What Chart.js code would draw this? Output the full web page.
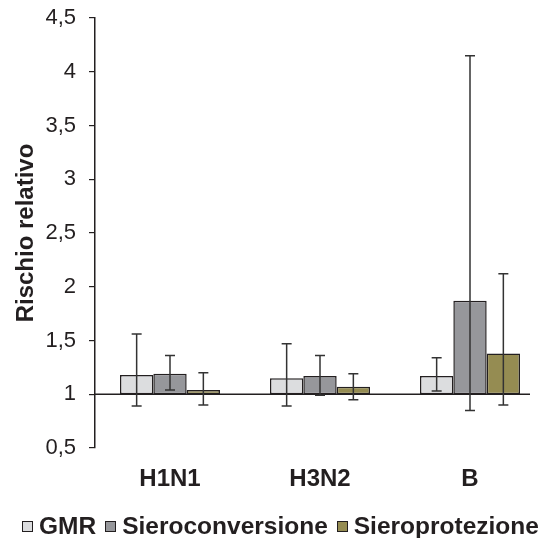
<!DOCTYPE html>
<html>
<head>
<meta charset="utf-8">
<script src="https://cdn.jsdelivr.net/npm/chart.js@4/dist/chart.umd.min.js"></script>
<style>
  html, body { margin: 0; padding: 0; background: #fff; overflow: hidden; }
  #wrap { position: relative; width: 541px; height: 538px; }
  #legend {
    position: absolute; left: 22px; top: 511px; height: 30px;
    display: flex; align-items: center; white-space: nowrap;
    font: bold 24.5px 'Liberation Sans', Arial, sans-serif; color: #231f20;
  }
  #legend .item { display: flex; align-items: center; margin-right: 9px; }
  #legend .box {
    width: 9px; height: 9px; border: 1.5px solid #231f20; margin-right: 6px;
  }
</style>
</head>
<body>
<div id="wrap">
  <canvas id="rr-chart" width="541" height="538"></canvas>
  <div id="legend"></div>
</div>
<script>
// 
// Chart data:
// 
var categories = ['H1N1', 'H3N2', 'B'];
var seriesNames = ['GMR', 'Sieroconversione', 'Sieroprotezione'];
var seriesColors = ['#dcdddf', '#96979b', '#958c52'];

var gmrValues = [1.18, 1.15, 1.17];
var gmrLow = [0.89, 0.89, 1.03];
var gmrHigh = [1.56, 1.47, 1.34];

var sieroconvValues = [1.19, 1.17, 1.87];
var sieroconvLow = [1.04, 0.99, 0.85];
var sieroconvHigh = [1.36, 1.36, 4.15];

var sieroprotValues = [1.04, 1.07, 1.38];
var sieroprotLow = [0.90, 0.95, 0.90];
var sieroprotHigh = [1.20, 1.19, 2.12];

var yTicks = [0.5, 1, 1.5, 2, 2.5, 3, 3.5, 4, 4.5];
var baseValue = 1;

var ink = '#231f20';
var family = "'Liberation Sans', Arial, sans-serif";

// 
// Build a floating bar dataset starting at the base value.
// 
function makeDataset(label, values, low, high, color) {
    return {
        label: label,
        data: values.map(function (v, i) {
            return {x: i, y: [baseValue, v]};
        }),
        errLow: low,
        errHigh: high,
        backgroundColor: color,
        borderColor: ink,
        borderWidth: 1.5,
        borderSkipped: false,
        categoryPercentage: 0.667,
        barPercentage: 1.0
    };
}

// 
// Horizontal axis line at the base value (1).
// 
var baseLine = {
    id: 'baseLine',
    beforeDatasetsDraw: function (chart) {
        var ctx = chart.ctx, area = chart.chartArea;
        var y = chart.scales.y.getPixelForValue(baseValue);
        ctx.save();
        ctx.strokeStyle = ink;
        ctx.lineWidth = 1.5;
        ctx.beginPath();
        ctx.moveTo(area.left, y);
        ctx.lineTo(area.right, y);
        ctx.stroke();
        ctx.restore();
    }
};

// 
// Error bars drawn on top of the bars.
// 
var errorBars = {
    id: 'errorBars',
    afterDatasetsDraw: function (chart) {
        var ctx = chart.ctx, yScale = chart.scales.y;
        ctx.save();
        ctx.strokeStyle = '#333333';
        ctx.lineWidth = 1.5;
        chart.data.datasets.forEach(function (ds, d) {
            var meta = chart.getDatasetMeta(d);
            meta.data.forEach(function (bar, i) {
                var yl = yScale.getPixelForValue(ds.errLow[i]);
                var yh = yScale.getPixelForValue(ds.errHigh[i]);
                var x = bar.x, cap = 5;
                ctx.beginPath();
                ctx.moveTo(x, yl);
                ctx.lineTo(x, yh);
                ctx.moveTo(x - cap, yh);
                ctx.lineTo(x + cap, yh);
                ctx.moveTo(x - cap, yl);
                ctx.lineTo(x + cap, yl);
                ctx.stroke();
            });
        });
        ctx.restore();
    }
};

// 
// Legend as plain HTML below the plot.
// 
function buildLegend() {
    var legend = document.getElementById('legend');
    seriesNames.forEach(function (name, i) {
        var item = document.createElement('div');
        var box = document.createElement('span');
        var text = document.createElement('span');
        item.className = 'item';
        box.className = 'box';
        box.style.background = seriesColors[i];
        text.textContent = name;
        item.appendChild(box);
        item.appendChild(text);
        legend.appendChild(item);
    });
}

var context = document.getElementById('rr-chart');

var chart = new Chart(context, {
    type: 'bar',
    data: {
        datasets: [
            makeDataset(seriesNames[0], gmrValues, gmrLow, gmrHigh, seriesColors[0]),
            makeDataset(seriesNames[1], sieroconvValues, sieroconvLow, sieroconvHigh, seriesColors[1]),
            makeDataset(seriesNames[2], sieroprotValues, sieroprotLow, sieroprotHigh, seriesColors[2])
        ]
    },
    options: {
        responsive: false,
        animation: false,
        devicePixelRatio: 1,
        layout: {
            padding: {top: 18, right: 11, bottom: 30, left: 0}
        },
        plugins: {
            tooltip: {enabled: false},
            legend: {display: false}
        },
        scales: {
            x: {
                type: 'linear',
                min: -0.5,
                max: 2.4,
                offset: false,
                grid: {display: false},
                border: {display: false},
                afterBuildTicks: function (scale) {
                    scale.ticks = categories.map(function (c, i) {
                        return {value: i};
                    });
                },
                afterFit: function (scale) {
                    scale.height = 60;
                },
                ticks: {
                    autoSkip: false,
                    maxRotation: 0,
                    padding: 9,
                    color: ink,
                    font: {family: family, size: 24, weight: 'bold'},
                    callback: function (value, index) {
                        return categories[index];
                    }
                }
            },
            y: {
                min: 0.5,
                max: 4.5,
                afterBuildTicks: function (scale) {
                    scale.ticks = yTicks.map(function (v) {
                        return {value: v};
                    });
                },
                afterFit: function (scale) {
                    // fixed axis width, and no extra room for the end labels
                    scale.width = 95;
                    scale.paddingTop = 0;
                    scale.paddingBottom = 0;
                },
                grid: {
                    drawOnChartArea: false,
                    drawTicks: true,
                    tickLength: 6,
                    color: ink,
                    lineWidth: 1.2
                },
                border: {display: true, color: ink, width: 1.5},
                ticks: {
                    padding: 13,
                    color: ink,
                    font: {family: family, size: 22},
                    callback: function (value) {
                        return String(value).replace('.', ',');
                    }
                },
                title: {
                    display: true,
                    text: 'Rischio relativo',
                    color: ink,
                    padding: {top: 12, bottom: 0},
                    font: {family: family, size: 24, weight: 'bold'}
                }
            }
        }
    },
    plugins: [baseLine, errorBars]
});

buildLegend();
</script>
</body>
</html>
